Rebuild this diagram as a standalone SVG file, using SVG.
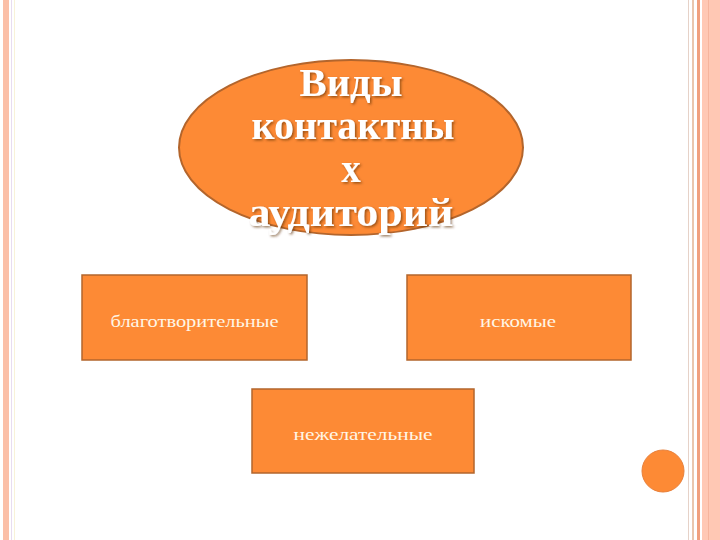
<svg xmlns="http://www.w3.org/2000/svg" width="720" height="540" viewBox="0 0 720 540">
<defs>
<style>
.box{fill:#fd8a35;stroke:#b3652c;stroke-width:1.5}
.lbl{font-family:"Liberation Serif","DejaVu Serif",serif;font-size:17px;fill:#fff6e6;text-anchor:middle}
.title{font-family:"Liberation Serif","DejaVu Serif",serif;font-weight:bold;font-size:39px;fill:#ffffff;text-anchor:middle}
</style>
<filter id="sh" x="-20%" y="-20%" width="140%" height="140%">
<feDropShadow dx="1.5" dy="1.5" stdDeviation="1" flood-color="#5a2a00" flood-opacity="0.6"/>
</filter>
</defs>
<rect width="720" height="540" fill="#ffffff"/>
<g id="frame">
<rect x="3" y="0" width="6" height="540" fill="#fbbfa7"/>
<rect x="11" y="0" width="1" height="540" fill="#e8dcf0"/>
<rect x="14" y="0" width="1" height="540" fill="#f8f2d8"/>
<rect x="688" y="0" width="1" height="540" fill="#e6d2c8"/>
<rect x="692" y="0" width="2" height="540" fill="#e9c6ae"/>
<rect x="697" y="0" width="3" height="540" fill="#f0a07e"/>
<rect x="702" y="0" width="18" height="540" fill="#ffc8b4"/>
<rect x="708" y="0" width="1" height="540" fill="#f6b49c"/>
</g>
<g id="connectors"></g>
<g id="node-title">
<ellipse cx="351" cy="147.5" rx="172" ry="87.5" fill="#fd8a35" stroke="#b3652c" stroke-width="2"/>
<g class="title" filter="url(#sh)">
<text x="351" y="96" textLength="103" lengthAdjust="spacingAndGlyphs">Виды</text>
<text x="353" y="139" textLength="203" lengthAdjust="spacingAndGlyphs">контактны</text>
<text x="351" y="182">х</text>
<text x="351" y="226" textLength="205" lengthAdjust="spacingAndGlyphs">аудиторий</text>
</g>
</g>
<g id="node-charity">
<rect class="box" x="82" y="275" width="225" height="85"/>
<text class="lbl" x="194.5" y="327" textLength="168" lengthAdjust="spacingAndGlyphs">благотворительные</text>
</g>
<g id="node-sought">
<rect class="box" x="407" y="275" width="224" height="85"/>
<text class="lbl" x="518" y="327" textLength="76" lengthAdjust="spacingAndGlyphs">искомые</text>
</g>
<g id="node-undesirable">
<rect class="box" x="252" y="389" width="222" height="84"/>
<text class="lbl" x="363" y="440" textLength="139" lengthAdjust="spacingAndGlyphs">нежелательные</text>
</g>
<g id="dot">
<circle cx="663" cy="471" r="21" fill="#fd8a35" stroke="#e8803a" stroke-width="1"/>
</g>
</svg>
